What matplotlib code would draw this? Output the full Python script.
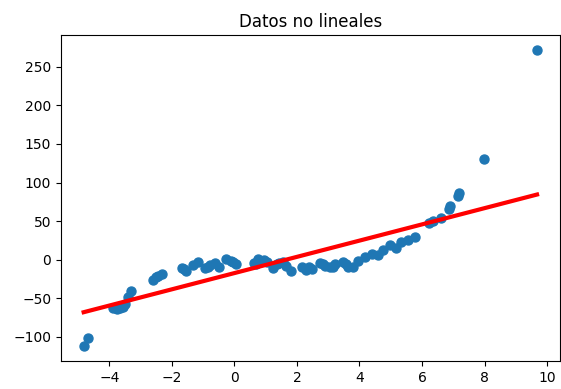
import numpy as np
import matplotlib
matplotlib.use("Agg")
import matplotlib.pyplot as plt

x = np.array([-4.82, -4.69, -3.87, -3.80, -3.75, -3.65, -3.58, -3.55, -3.50,
              -3.39, -3.30, -2.59, -2.50, -2.43, -2.33, -1.69, -1.62, -1.55,
              -1.32, -1.16, -0.95, -0.85, -0.79, -0.63, -0.48, -0.26, -0.11,
              -0.05, 0.05, 0.63, 0.70, 0.75, 0.85, 0.95, 1.05, 1.22, 1.35,
              1.43, 1.55, 1.64, 1.80, 2.17, 2.28, 2.40, 2.49, 2.75, 2.85,
              2.91, 3.07, 3.15, 3.23, 3.49, 3.58, 3.65, 3.81, 3.97, 4.18,
              4.39, 4.60, 4.76, 4.97, 5.18, 5.34, 5.56, 5.77, 6.24, 6.35,
              6.61, 6.85, 6.90, 7.14, 7.19, 7.97, 9.68])
y = np.array([-112, -102, -63, -62, -64, -62, -60, -61, -57,
              -48, -41, -26, -23, -21, -19, -11, -12, -14,
              -7, -3, -11, -9, -7, -4, -9, 1, -1,
              -3, -5, -4, -6, 1, -2, 0, -3, -11, -6,
              -4, -3, -8, -14, -9, -13, -10, -12, -4, -6,
              -8, -10, -9, -6, -3, -6, -10, -9, -2, 4,
              8, 6, 13, 19, 15, 23, 26, 30, 48, 50,
              54, 66, 70, 83, 86, 130, 272])

line_x = np.array([-4.82, 9.68])
line_y = np.array([-68.0, 84.5])

title = "Datos no lineales"

fig = plt.figure(figsize=(5.61, 3.89), dpi=100)
ax = fig.add_axes([0.1087, 0.072, 0.889, 0.838])
ax.scatter(x, y, color="#1f77b4", s=42)
ax.plot(line_x, line_y, color="red", linewidth=3)
ax.set_title(title, fontsize=12)
ax.tick_params(labelsize=10)
fig.savefig("out.png", dpi=100)
